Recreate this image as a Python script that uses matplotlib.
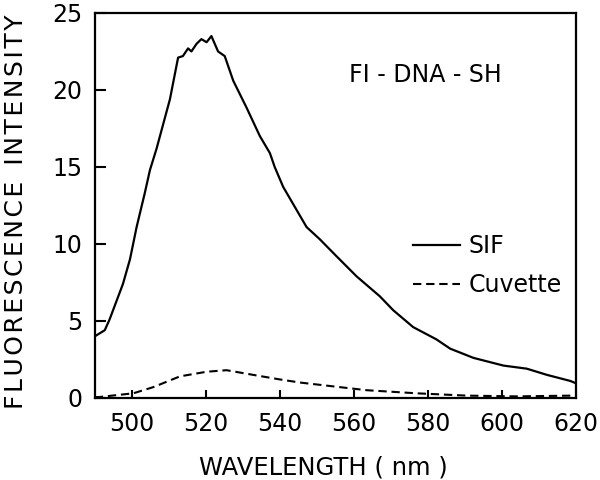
import matplotlib
matplotlib.use("Agg")
import matplotlib.pyplot as plt

sif_wl = [490, 492.7, 494, 497.6, 499.5, 501.3, 503.5, 504.9, 506.7, 510.3, 512.5, 513.8,
          515.2, 516.1, 517.5, 518.8, 520.2, 521.5, 523.3, 525.1, 527.4, 531, 534.6,
          537.3, 538.6, 540.9, 547.2, 550.8, 555.3, 560.7, 567, 570.6, 576, 582.3, 586,
          592.3, 600.4, 606.7, 612.1, 618.5, 620]
sif_int = [4.0, 4.4, 5.1, 7.4, 9.0, 11.1, 13.3, 14.8, 16.2, 19.4, 22.1, 22.2,
           22.7, 22.5, 23.0, 23.3, 23.1, 23.5, 22.5, 22.2, 20.6, 18.85, 17.0,
           15.9, 15.0, 13.7, 11.1, 10.3, 9.2, 7.9, 6.6, 5.7, 4.6, 3.8, 3.2,
           2.6, 2.1, 1.9, 1.5, 1.1, 0.95]

cuv_wl = [490, 491.3, 500.4, 505.8, 513, 520.2, 525.6, 532.7, 540, 545.4, 556.2, 563.5,
          576.9, 590.4, 603.9, 619.2, 620]
cuv_int = [0.05, 0.06, 0.3, 0.7, 1.4, 1.7, 1.8, 1.5, 1.2, 1.0, 0.7, 0.5,
           0.3, 0.15, 0.1, 0.15, 0.15]

xticks = [500, 520, 540, 560, 580, 600, 620]
yticks = [0, 5, 10, 15, 20, 25]

fig = plt.figure(figsize=(6, 4.8), dpi=100)
ax = fig.add_axes([0.158, 0.171, 0.802, 0.802])

ax.plot(sif_wl, sif_int, color="black", lw=1.6, label="SIF")
ax.plot(cuv_wl, cuv_int, color="black", lw=1.5, linestyle=(0, (4, 2.3)), label="Cuvette")

ax.set_xlim(490, 620)
ax.set_ylim(0, 25)
ax.set_xticks(xticks)
ax.set_yticks(yticks)
ax.tick_params(axis="both", direction="in", labelsize=17, width=1.5)
ax.tick_params(axis="y", length=8, pad=9)
ax.tick_params(axis="x", length=6, pad=10)
for s in ax.spines.values():
    s.set_linewidth(1.6)

hs = "\u200a"
ylab = hs.join("FLUORESCENCE") + "  " + hs.join("INTENSITY")
fig.text(16 / 600, 1 - 212 / 480, ylab, rotation=90, fontsize=18,
         ha="center", va="center")
fig.text(323.5 / 600, 1 - 467 / 480, "WAVELENGTH ( nm )", fontsize=17.5,
         ha="center", va="center")

ax.text(0.688, 0.839, "FI - DNA - SH", transform=ax.transAxes, fontsize=17,
        ha="center", va="center")

ax.legend(frameon=False, loc="upper left", bbox_to_anchor=(0.661, 0.425),
          fontsize=17, handlelength=2.0, handletextpad=0.35, labelspacing=0.62,
          borderpad=0, borderaxespad=0)

fig.savefig("out.png", dpi=100)
